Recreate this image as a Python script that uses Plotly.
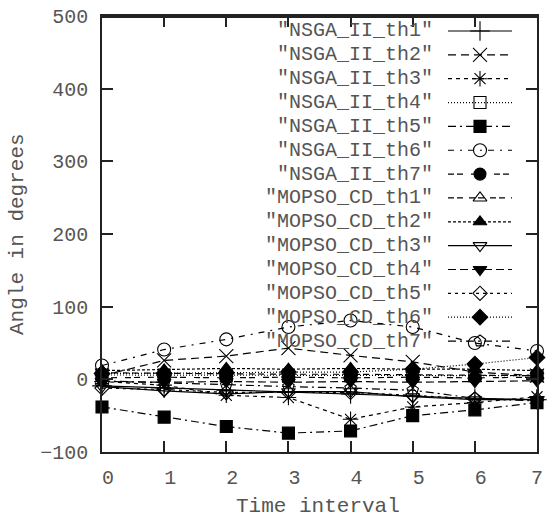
import plotly.graph_objects as go

time_interval = [0, 1, 2, 3, 4, 5, 6, 7]

series_names = [
    '"NSGA_II_th1"', '"NSGA_II_th2"', '"NSGA_II_th3"', '"NSGA_II_th4"',
    '"NSGA_II_th5"', '"NSGA_II_th6"', '"NSGA_II_th7"',
    '"MOPSO_CD_th1"', '"MOPSO_CD_th2"', '"MOPSO_CD_th3"', '"MOPSO_CD_th4"',
    '"MOPSO_CD_th5"', '"MOPSO_CD_th6"', '"MOPSO_CD_th7"',
]

nsga_th1 = [-9, -12, -15, -18, -20, -23, -26, -28]
nsga_th2 = [5, 26, 32, 43, 33, 24, 10, 5]
nsga_th3 = [-3, -8, -22, -25, -55, -38, -32, -24]
nsga_th4 = [6, 6, 5, 5, 5, 5, 5, 5]
nsga_th5 = [-38, -52, -65, -74, -71, -50, -42, -32]
nsga_th6 = [19, 41, 55, 72, 81, 72, 50, 39]
nsga_th7 = [2, 3, 2, 3, 2, 3, 2, 3]
mopso_th1 = [9, 8, 8, 7, 7, 6, 6, 5]
mopso_th2 = [12, 13, 15, 14, 15, 14, 14, 12]
mopso_th3 = [-10, -16, -20, -17, -17, -24, -28, -28]
mopso_th4 = [-3, -4, -3, -4, -3, -4, -3, -2]
mopso_th5 = [-12, -14, -18, -18, -18, -22, -27, -28]
mopso_th6 = [8, 8, 9, 10, 10, 14, 21, 30]
mopso_th7 = [-2, -5, -8, -10, -12, -15, -26, -30]

series_values = [nsga_th1, nsga_th2, nsga_th3, nsga_th4, nsga_th5, nsga_th6, nsga_th7,
                 mopso_th1, mopso_th2, mopso_th3, mopso_th4, mopso_th5, mopso_th6, mopso_th7]

y_ticks = [-100, 0, 100, 200, 300, 400, 500]

symbols = ["cross-thin-open", "x-thin-open", "asterisk-open", "square-open", "square",
           "circle-open", "circle", "triangle-up-open", "triangle-up", "triangle-down-open",
           "triangle-down", "diamond-open", "diamond", "pentagon-open"]
sizes = [14, 14, 13, 12, 12, 13, 12, 12, 12, 12, 12, 11, 12, 12]
dashes = ["solid", "8px,5px", "4px,4px", "1px,2px", "8px,4px,2px,4px",
          "6px,6px,2px,6px", "6px,3px,6px,8px", "6px,3px,6px,6px", "3px,2px", "solid",
          "8px,4px", "3px,4px", "1px,2px", "8px,4px,2px,4px"]

FONT = "Liberation Mono, Courier New, monospace"
TXT = "#555"
FS = 20

W, H = 547, 520
# plot-area edges in window pixels
L, R, T, B = 102, 537, 16, 452
XMIN, XMAX, YMIN, YMAX = 0, 7, -100, 500

fig = go.Figure()
for name, vals, sym, sz, ds in zip(series_names, series_values, symbols, sizes, dashes):
    fig.add_trace(go.Scatter(
        x=time_interval, y=vals, mode="lines+markers", name=name, showlegend=False,
        line=dict(color="black", width=1.2, dash=ds),
        marker=dict(symbol=sym, size=sz, color="black", line=dict(color="black", width=1.1)),
        cliponaxis=False,
    ))

# helpers: window pixel -> paper / data coordinates (for the key only)
def px2x(px):
    return (px - L) / (R - L)

def py2y(py):
    return (B - py) / (B - T)

def px2d(px):
    return XMIN + px2x(px) * (XMAX - XMIN)

def py2d(py):
    return YMIN + py2y(py) * (YMAX - YMIN)

# custom gnuplot-style key: text right-aligned, sample to the right
row0, step = 31, 23.85
for i, (name, sym, sz, ds) in enumerate(zip(series_names, symbols, sizes, dashes)):
    py = row0 + i * step
    yd = py2d(py)
    fig.add_trace(go.Scatter(
        x=[px2d(448), px2d(512)], y=[yd, yd], mode="lines",
        showlegend=False, hoverinfo="skip", line=dict(color="black", width=1.2, dash=ds)))
    fig.add_trace(go.Scatter(
        x=[px2d(480)], y=[yd], mode="markers",
        showlegend=False, hoverinfo="skip",
        marker=dict(symbol=sym, size=sz, color="black", line=dict(color="black", width=1.1))))
    fig.add_annotation(x=px2x(435), y=py2y(py), xref="paper", yref="paper", text=name,
                       showarrow=False, xanchor="right", yanchor="middle",
                       font=dict(family=FONT, size=FS, color=TXT))

# axis titles
fig.add_annotation(x=px2x(17), y=0.5, xref="paper", yref="paper", text="Angle in degrees",
                   textangle=-90, showarrow=False, xanchor="center", yanchor="middle",
                   font=dict(family=FONT, size=21, color=TXT))
fig.add_annotation(x=px2x(318), y=py2y(506), xref="paper", yref="paper", text="Time interval",
                   showarrow=False, xanchor="center", yanchor="middle",
                   font=dict(family=FONT, size=21, color=TXT))

# top frame line (drawn explicitly, one pixel inside the plot area)
fig.add_shape(type="line", xref="paper", yref="paper", x0=0, x1=1,
              y0=py2y(T + 1), y1=py2y(T + 1),
              line=dict(color="#222", width=2), layer="above")

axis_common = dict(showgrid=False, zeroline=False, showline=True, linecolor="#222",
                   linewidth=1.5, mirror="allticks", ticks="inside", ticklen=11,
                   tickwidth=1.5, tickcolor="#222", automargin=False,
                   ticklabeloverflow="allow",
                   tickfont=dict(family=FONT, size=FS, color=TXT))

x_ticktext = ["\u00a0" + str(v) for v in time_interval[:-1]] + [str(time_interval[-1])]

fig.update_layout(
    width=W, height=H,
    margin=dict(l=L, r=W - R, t=T, b=H - B, autoexpand=False),
    paper_bgcolor="white", plot_bgcolor="white",
    xaxis=dict(range=[XMIN, XMAX], tickvals=time_interval, ticktext=x_ticktext,
               ticklabelstandoff=6, **axis_common),
    yaxis=dict(range=[YMIN, YMAX], tickvals=y_ticks,
               ticktext=[str(v).replace("-", "\u2212") for v in y_ticks],
               ticklabelstandoff=8, **axis_common),
)

fig.write_html("out.html", config={"displayModeBar": False},
               post_script="document.body.style.margin='0';document.body.style.overflow='hidden';")
